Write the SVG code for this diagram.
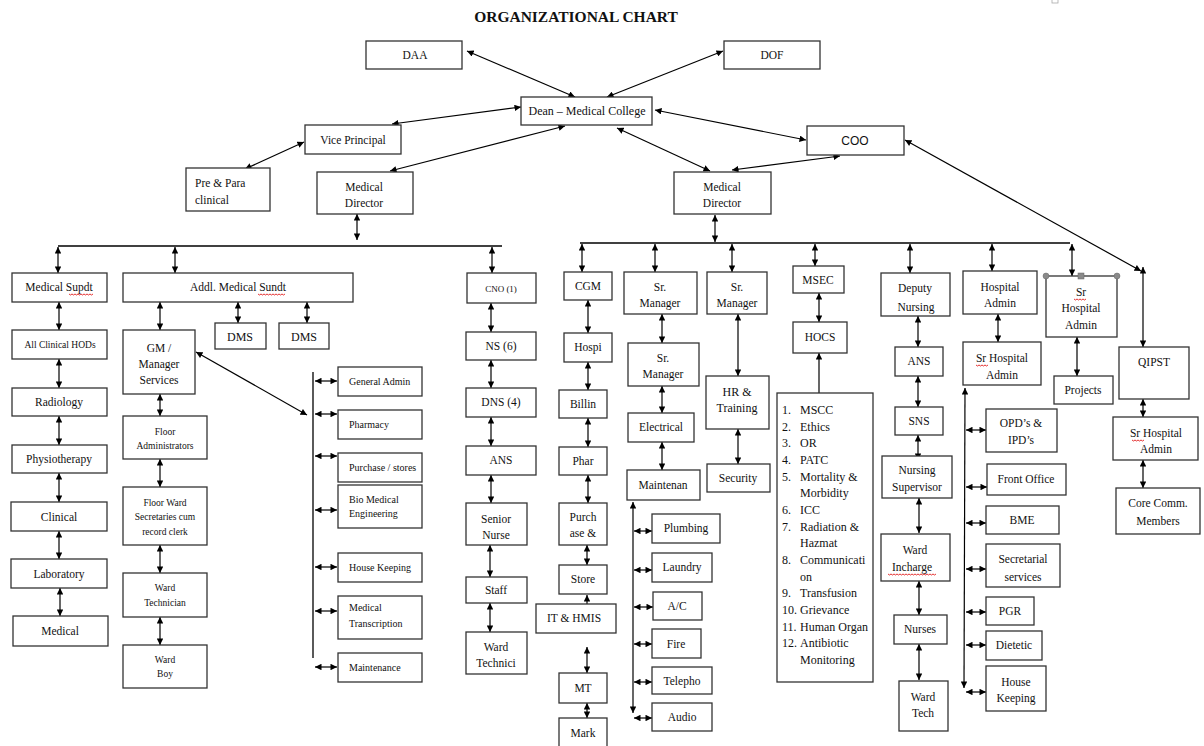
<svg xmlns="http://www.w3.org/2000/svg" width="1204" height="746" viewBox="0 0 1204 746">
<defs>
<marker id="ah" viewBox="0 0 10 10" refX="10" refY="5" markerWidth="7" markerHeight="6.5" markerUnits="userSpaceOnUse" orient="auto-start-reverse"><path d="M0,0 L10,5 L0,10 z" fill="#000"/></marker>
</defs>
<style>
rect.b{fill:#fff;stroke:#333;stroke-width:1.3}
text{font-family:"Liberation Serif","Times New Roman",serif;fill:#111;font-size:11.5px;text-anchor:middle}
text.s{font-size:9.5px}
text.v{font-size:10px;text-anchor:start}
text.l{font-size:12px;text-anchor:start}
text.sans{font-family:"Liberation Sans",Arial,sans-serif;font-size:12px}
text.title{font-size:15.5px;font-weight:bold}
line.a2{stroke:#000;stroke-width:1.2;marker-start:url(#ah);marker-end:url(#ah)}
line.a1{stroke:#000;stroke-width:1.2;marker-end:url(#ah)}
line.ln{stroke:#000;stroke-width:1.3}
path.sq{fill:none;stroke:#d00;stroke-width:0.8}
circle.h,rect.h{fill:#8a8a8a;stroke:#666;stroke-width:0.5}
</style>
<rect x="0" y="0" width="1204" height="746" fill="#fff"/>
<text class="title" x="576" y="22">ORGANIZATIONAL CHART</text>
<rect x="1052" y="-1" width="6" height="4" fill="#fff" stroke="#aaa" stroke-width="0.8"/>

<g id="connectors">
<line class="a2" x1="467" y1="51" x2="575" y2="97"/>
<line class="a2" x1="723" y1="51" x2="607" y2="97"/>
<line class="a2" x1="392" y1="124" x2="521" y2="107"/>
<line class="a2" x1="245" y1="169" x2="304" y2="142"/>
<line class="a2" x1="390" y1="171" x2="565" y2="126"/>
<line class="a2" x1="617" y1="128" x2="710" y2="171"/>
<line class="a2" x1="655" y1="110" x2="806" y2="140"/>
<line class="a2" x1="732" y1="170" x2="840" y2="156"/>
<line class="a2" x1="905" y1="140" x2="1141" y2="271"/>
<line class="a2" x1="1143" y1="267" x2="1143" y2="347"/>
<line class="a2" x1="357" y1="214" x2="357" y2="240"/>
<line class="ln" x1="58" y1="246" x2="502" y2="246"/>
<line class="a2" x1="58" y1="247" x2="58" y2="273"/>
<line class="a2" x1="175" y1="247" x2="175" y2="273"/>
<line class="a2" x1="492" y1="247" x2="492" y2="273"/>
<line class="a2" x1="59" y1="302" x2="59" y2="330"/>
<line class="a2" x1="59" y1="359" x2="59" y2="388"/>
<line class="a2" x1="59" y1="416" x2="59" y2="445"/>
<line class="a2" x1="59" y1="473" x2="59" y2="502"/>
<line class="a2" x1="59" y1="531" x2="59" y2="559"/>
<line class="a2" x1="60" y1="588" x2="60" y2="616"/>
<line class="a2" x1="160" y1="302" x2="160" y2="330"/>
<line class="a2" x1="160" y1="394" x2="160" y2="416"/>
<line class="a2" x1="160" y1="459" x2="160" y2="487"/>
<line class="a2" x1="160" y1="545" x2="160" y2="573"/>
<line class="a2" x1="160" y1="617" x2="160" y2="645"/>
<line class="a2" x1="238" y1="302" x2="238" y2="323"/>
<line class="a2" x1="307" y1="302" x2="307" y2="323"/>
<line class="a2" x1="196" y1="352" x2="307" y2="415"/>
<line class="ln" x1="313" y1="372" x2="313" y2="658"/>
<line class="a2" x1="315" y1="381" x2="337" y2="381"/>
<line class="a2" x1="315" y1="414" x2="337" y2="414"/>
<line class="a2" x1="315" y1="456" x2="337" y2="456"/>
<line class="a2" x1="315" y1="510" x2="337" y2="510"/>
<line class="a2" x1="315" y1="567" x2="337" y2="567"/>
<line class="a2" x1="315" y1="611" x2="337" y2="611"/>
<line class="a2" x1="315" y1="667" x2="337" y2="667"/>
<line class="a2" x1="491" y1="303" x2="491" y2="332"/>
<line class="a2" x1="491" y1="360" x2="491" y2="388"/>
<line class="a2" x1="491" y1="417" x2="491" y2="446"/>
<line class="a2" x1="491" y1="475" x2="491" y2="503"/>
<line class="a2" x1="490" y1="545" x2="490" y2="577"/>
<line class="a2" x1="490" y1="603" x2="490" y2="632"/>
<line class="a2" x1="715" y1="215" x2="715" y2="242"/>
<line class="ln" x1="580" y1="243" x2="1070" y2="243"/>
<line class="a2" x1="582" y1="244" x2="582" y2="272"/>
<line class="a2" x1="655" y1="244" x2="655" y2="272"/>
<line class="a2" x1="732" y1="244" x2="732" y2="272"/>
<line class="a2" x1="815" y1="244" x2="815" y2="266"/>
<line class="a2" x1="910" y1="244" x2="910" y2="273"/>
<line class="a2" x1="992" y1="244" x2="992" y2="271"/>
<line class="a2" x1="1072" y1="244" x2="1072" y2="276"/>
<line class="a2" x1="588" y1="300" x2="588" y2="333"/>
<line class="a2" x1="588" y1="362" x2="588" y2="390"/>
<line class="a2" x1="588" y1="418" x2="588" y2="447"/>
<line class="a2" x1="588" y1="475" x2="588" y2="503"/>
<line class="a2" x1="587" y1="545" x2="587" y2="565"/>
<line class="a2" x1="587" y1="595" x2="587" y2="613"/>
<line class="a2" x1="587" y1="647" x2="587" y2="673"/>
<line class="a2" x1="587" y1="703" x2="587" y2="718"/>
<line class="a2" x1="662" y1="314" x2="662" y2="343"/>
<line class="a2" x1="662" y1="386" x2="662" y2="413"/>
<line class="a2" x1="662" y1="442" x2="662" y2="470"/>
<line class="a2" x1="633" y1="502" x2="633" y2="713"/>
<line class="a2" x1="634" y1="531" x2="652" y2="531"/>
<line class="a2" x1="634" y1="570" x2="652" y2="570"/>
<line class="a2" x1="634" y1="607" x2="653" y2="607"/>
<line class="a2" x1="634" y1="644" x2="652" y2="644"/>
<line class="a2" x1="634" y1="682" x2="652" y2="682"/>
<line class="a2" x1="634" y1="718" x2="652" y2="718"/>
<line class="a2" x1="738" y1="314" x2="738" y2="376"/>
<line class="a2" x1="738" y1="429" x2="738" y2="464"/>
<line class="a2" x1="819" y1="293" x2="819" y2="322"/>
<line class="a1" x1="819" y1="393" x2="819" y2="353"/>
<line class="a2" x1="918" y1="316" x2="918" y2="347"/>
<line class="a2" x1="918" y1="376" x2="918" y2="407"/>
<line class="a2" x1="918" y1="435" x2="918" y2="460"/>
<line class="a2" x1="919" y1="498" x2="919" y2="533"/>
<line class="a2" x1="919" y1="581" x2="919" y2="615"/>
<line class="a2" x1="919" y1="644" x2="919" y2="680"/>
<line class="a2" x1="998" y1="314" x2="998" y2="342"/>
<line class="a2" x1="965" y1="388" x2="964" y2="688"/>
<line class="a2" x1="966" y1="430" x2="986" y2="430"/>
<line class="a2" x1="966" y1="487" x2="987" y2="487"/>
<line class="a2" x1="966" y1="523" x2="986" y2="523"/>
<line class="a2" x1="966" y1="569" x2="986" y2="569"/>
<line class="a2" x1="966" y1="612" x2="986" y2="612"/>
<line class="a2" x1="966" y1="645" x2="986" y2="645"/>
<line class="a2" x1="966" y1="692" x2="986" y2="692"/>
<line class="a2" x1="1077" y1="337" x2="1077" y2="376"/>
<line class="a2" x1="1143" y1="399" x2="1143" y2="417"/>
<line class="a2" x1="1143" y1="460" x2="1143" y2="488"/>
</g>

<g id="daa"><rect class="b" x="366" y="41" width="96" height="28"/><text x="415" y="59">DAA</text></g>
<g id="dof"><rect class="b" x="724" y="41" width="96" height="28"/><text x="772" y="59">DOF</text></g>
<g id="dean"><rect class="b" x="521" y="97" width="131" height="28"/><text x="587" y="115" style="font-size:12px">Dean – Medical College</text></g>
<g id="vice-principal"><rect class="b" x="305" y="125" width="96" height="29"/><text x="353" y="144">Vice Principal</text></g>
<g id="pre-para"><rect class="b" x="186" y="168" width="84" height="43"/><text x="195" y="187" style="text-anchor:start">Pre &amp; Para</text><text x="195" y="204" style="text-anchor:start">clinical</text></g>
<g id="md-left"><rect class="b" x="317" y="172" width="96" height="42"/><text x="364" y="191">Medical</text><text x="364" y="207">Director</text></g>
<g id="md-right"><rect class="b" x="674" y="172" width="97" height="42"/><text x="722" y="191">Medical</text><text x="722" y="207">Director</text></g>
<g id="coo"><rect class="b" x="807" y="126" width="97" height="29"/><text class="sans" x="855" y="145">COO</text></g>

<g id="medical-supdt"><rect class="b" x="12" y="273" width="95" height="29"/><text x="59" y="291">Medical Supdt</text><path class="sq" d="M69,294 l1.5,1 1.5,-1 1.5,1 1.5,-1 1.5,1 1.5,-1 1.5,1 1.5,-1 1.5,1 1.5,-1 1.5,1 1.5,-1 1.5,1 1.5,-1 1.5,1 1.5,-1"/></g>
<g id="all-clinical-hods"><rect class="b" x="12" y="330" width="95" height="29"/><text class="s" x="60" y="348">All Clinical HODs</text></g>
<g id="radiology"><rect class="b" x="12" y="388" width="95" height="28"/><text x="59" y="406">Radiology</text></g>
<g id="physiotherapy"><rect class="b" x="12" y="445" width="95" height="28"/><text x="59" y="463">Physiotherapy</text></g>
<g id="clinical"><rect class="b" x="11" y="502" width="96" height="29"/><text x="59" y="521">Clinical</text></g>
<g id="laboratory"><rect class="b" x="11" y="559" width="96" height="29"/><text x="59" y="578">Laboratory</text></g>
<g id="medical"><rect class="b" x="13" y="616" width="95" height="30"/><text x="60" y="635">Medical</text></g>

<g id="addl-medical-sundt"><rect class="b" x="123" y="273" width="230" height="29"/><text x="238" y="291">Addl. Medical Sundt</text><path class="sq" d="M258,294 l1.5,1 1.5,-1 1.5,1 1.5,-1 1.5,1 1.5,-1 1.5,1 1.5,-1 1.5,1 1.5,-1 1.5,1 1.5,-1 1.5,1 1.5,-1 1.5,1 1.5,-1 1.5,1 1.5,-1"/></g>
<g id="gm-manager-services"><rect class="b" x="123" y="330" width="72" height="64"/><text x="159" y="352">GM /</text><text x="159" y="368">Manager</text><text x="159" y="384">Services</text></g>
<g id="floor-administrators"><rect class="b" x="123" y="416" width="84" height="43"/><text class="s" x="165" y="435">Floor</text><text class="s" x="165" y="449">Administrators</text></g>
<g id="floor-ward-secretaries"><rect class="b" x="123" y="487" width="84" height="58"/><text class="s" x="165" y="506">Floor Ward</text><text class="s" x="165" y="520">Secretaries cum</text><text class="s" x="165" y="535">record clerk</text></g>
<g id="ward-technician"><rect class="b" x="123" y="573" width="84" height="44"/><text class="s" x="165" y="591">Ward</text><text class="s" x="165" y="606">Technician</text></g>
<g id="ward-boy"><rect class="b" x="123" y="645" width="84" height="43"/><text class="s" x="165" y="663">Ward</text><text class="s" x="165" y="677">Boy</text></g>
<g id="dms-1"><rect class="b" x="215" y="323" width="51" height="26"/><text x="240" y="341" style="font-size:12px">DMS</text></g>
<g id="dms-2"><rect class="b" x="279" y="323" width="50" height="26"/><text x="304" y="341" style="font-size:12px">DMS</text></g>

<g id="general-admin"><rect class="b" x="338" y="367" width="84" height="29"/><text class="v" x="349" y="385">General Admin</text></g>
<g id="pharmacy"><rect class="b" x="338" y="410" width="84" height="29"/><text class="v" x="349" y="428">Pharmacy</text></g>
<g id="purchase-stores"><rect class="b" x="338" y="453" width="84" height="29"/><text class="v" x="349" y="471">Purchase / stores</text></g>
<g id="bio-medical"><rect class="b" x="338" y="485" width="84" height="43"/><text class="v" x="349" y="503">Bio Medical</text><text class="v" x="349" y="517">Engineering</text></g>
<g id="house-keeping-1"><rect class="b" x="338" y="553" width="84" height="29"/><text class="v" x="349" y="571">House Keeping</text></g>
<g id="medical-transcription"><rect class="b" x="338" y="596" width="84" height="43"/><text class="v" x="349" y="611">Medical</text><text class="v" x="349" y="627">Transcription</text></g>
<g id="maintenance-1"><rect class="b" x="338" y="653" width="84" height="29"/><text class="v" x="349" y="671">Maintenance</text></g>

<g id="cno"><rect class="b" x="467" y="273" width="69" height="30"/><text x="501" y="292" style="font-size:9px">CNO (1)</text></g>
<g id="ns-6"><rect class="b" x="466" y="332" width="70" height="28"/><text x="501" y="350">NS (6)</text></g>
<g id="dns-4"><rect class="b" x="466" y="388" width="70" height="29"/><text x="501" y="406">DNS (4)</text></g>
<g id="ans-1"><rect class="b" x="466" y="446" width="70" height="29"/><text x="501" y="464">ANS</text></g>
<g id="senior-nurse"><rect class="b" x="466" y="503" width="61" height="42"/><text x="496" y="523">Senior</text><text x="496" y="539">Nurse</text></g>
<g id="staff"><rect class="b" x="466" y="577" width="61" height="26"/><text x="496" y="594">Staff</text></g>
<g id="ward-technici"><rect class="b" x="466" y="632" width="61" height="42"/><text x="496" y="651">Ward</text><text x="496" y="667">Technici</text></g>

<g id="cgm"><rect class="b" x="564" y="272" width="48" height="28"/><text x="588" y="290">CGM</text></g>
<g id="hospi"><rect class="b" x="564" y="333" width="48" height="29"/><text x="588" y="351">Hospi</text></g>
<g id="billin"><rect class="b" x="559" y="390" width="48" height="28"/><text x="583" y="408">Billin</text></g>
<g id="phar"><rect class="b" x="559" y="447" width="48" height="28"/><text x="583" y="465">Phar</text></g>
<g id="purchase"><rect class="b" x="559" y="503" width="48" height="42"/><text x="583" y="521">Purch</text><text x="583" y="537">ase &amp;</text></g>
<g id="store"><rect class="b" x="559" y="565" width="48" height="29"/><text x="583" y="583">Store</text></g>
<g id="it-hmis"><rect class="b" x="536" y="604" width="80" height="29"/><text x="574" y="622">IT &amp; HMIS</text></g>
<g id="mt"><rect class="b" x="559" y="673" width="48" height="30"/><text x="583" y="692">MT</text></g>
<g id="mark"><rect class="b" x="559" y="718" width="48" height="30"/><text x="583" y="737">Mark</text></g>

<g id="sr-manager-1"><rect class="b" x="624" y="272" width="73" height="42"/><text x="660" y="291">Sr.</text><text x="660" y="307">Manager</text></g>
<g id="sr-manager-1b"><rect class="b" x="628" y="343" width="71" height="43"/><text x="663" y="362">Sr.</text><text x="663" y="378">Manager</text></g>
<g id="electrical"><rect class="b" x="628" y="413" width="66" height="29"/><text x="661" y="431">Electrical</text></g>
<g id="maintenan"><rect class="b" x="627" y="470" width="73" height="30"/><text x="663" y="489">Maintenan</text></g>
<g id="plumbing"><rect class="b" x="652" y="514" width="68" height="29"/><text x="686" y="532">Plumbing</text></g>
<g id="laundry"><rect class="b" x="652" y="553" width="60" height="29"/><text x="682" y="571">Laundry</text></g>
<g id="ac"><rect class="b" x="653" y="592" width="49" height="28"/><text x="677" y="610">A/C</text></g>
<g id="fire"><rect class="b" x="652" y="629" width="49" height="29"/><text x="676" y="648">Fire</text></g>
<g id="telepho"><rect class="b" x="652" y="667" width="60" height="27"/><text x="682" y="685">Telepho</text></g>
<g id="audio"><rect class="b" x="652" y="703" width="60" height="28"/><text x="682" y="721">Audio</text></g>

<g id="sr-manager-2"><rect class="b" x="707" y="272" width="60" height="42"/><text x="737" y="291">Sr.</text><text x="737" y="307">Manager</text></g>
<g id="hr-training"><rect class="b" x="706" y="376" width="63" height="53"/><text x="737" y="396" style="font-size:12px">HR &amp;</text><text x="737" y="412" style="font-size:12px">Training</text></g>
<g id="security"><rect class="b" x="707" y="464" width="63" height="28"/><text x="738" y="482">Security</text></g>

<g id="msec"><rect class="b" x="793" y="266" width="51" height="27"/><text x="818" y="284">MSEC</text></g>
<g id="hocs"><rect class="b" x="793" y="322" width="54" height="31"/><text x="820" y="341">HOCS</text></g>
<g id="committees"><rect class="b" x="777" y="393" width="96" height="289"/>
<text class="l" x="782" y="414">1.</text><text class="l" x="800" y="414">MSCC</text>
<text class="l" x="782" y="430.7">2.</text><text class="l" x="800" y="430.7">Ethics</text>
<text class="l" x="782" y="447.3">3.</text><text class="l" x="800" y="447.3">OR</text>
<text class="l" x="782" y="464">4.</text><text class="l" x="800" y="464">PATC</text>
<text class="l" x="782" y="480.7">5.</text><text class="l" x="800" y="480.7">Mortality &amp;</text>
<text class="l" x="800" y="497.3">Morbidity</text>
<text class="l" x="782" y="514">6.</text><text class="l" x="800" y="514">ICC</text>
<text class="l" x="782" y="530.7">7.</text><text class="l" x="800" y="530.7">Radiation &amp;</text>
<text class="l" x="800" y="547.3">Hazmat</text>
<text class="l" x="782" y="564">8.</text><text class="l" x="800" y="564">Communicati</text>
<text class="l" x="800" y="580.7">on</text>
<text class="l" x="782" y="597.3">9.</text><text class="l" x="800" y="597.3">Transfusion</text>
<text class="l" x="782" y="614">10.</text><text class="l" x="800" y="614">Grievance</text>
<text class="l" x="782" y="630.7">11.</text><text class="l" x="800" y="630.7">Human Organ</text>
<text class="l" x="782" y="647.3">12.</text><text class="l" x="800" y="647.3">Antibiotic</text>
<text class="l" x="800" y="664">Monitoring</text>
</g>

<g id="deputy-nursing"><rect class="b" x="881" y="273" width="69" height="43"/><text x="915" y="292">Deputy</text><text x="916" y="311">Nursing</text></g>
<g id="ans-2"><rect class="b" x="895" y="347" width="48" height="29"/><text x="919" y="365">ANS</text></g>
<g id="sns"><rect class="b" x="895" y="407" width="48" height="28"/><text x="919" y="425">SNS</text></g>
<g id="nursing-supervisor"><rect class="b" x="882" y="456" width="70" height="42"/><text x="917" y="474">Nursing</text><text x="917" y="491">Supervisor</text></g>
<g id="ward-incharge"><rect class="b" x="881" y="534" width="69" height="47"/><text x="915" y="554">Ward</text><text x="912" y="571">Incharge</text><path class="sq" d="M888,574 l1.5,1 1.5,-1 1.5,1 1.5,-1 1.5,1 1.5,-1 1.5,1 1.5,-1 1.5,1 1.5,-1 1.5,1 1.5,-1 1.5,1 1.5,-1 1.5,1 1.5,-1 1.5,1 1.5,-1 1.5,1 1.5,-1 1.5,1 1.5,-1 1.5,1 1.5,-1 1.5,1 1.5,-1 1.5,1 1.5,-1 1.5,1 1.5,-1 1.5,1 1.5,-1"/></g>
<g id="nurses"><rect class="b" x="894" y="615" width="53" height="29"/><text x="920" y="633">Nurses</text></g>
<g id="ward-tech"><rect class="b" x="899" y="681" width="49" height="50"/><text x="923" y="701">Ward</text><text x="923" y="717">Tech</text></g>

<g id="hospital-admin"><rect class="b" x="963" y="271" width="74" height="43"/><text x="1000" y="291">Hospital</text><text x="1000" y="307">Admin</text></g>
<g id="sr-hospital-admin-1"><rect class="b" x="963" y="342" width="78" height="43"/><text x="1002" y="362">Sr Hospital</text><text x="1002" y="379">Admin</text><path class="sq" d="M976,365 l1.5,1 1.5,-1 1.5,1 1.5,-1 1.5,1 1.5,-1 1.5,1 1.5,-1"/></g>
<g id="opd-ipd"><rect class="b" x="986" y="409" width="71" height="43"/><text x="1021" y="427">OPD’s &amp;</text><text x="1021" y="444">IPD’s</text></g>
<g id="front-office"><rect class="b" x="987" y="464" width="79" height="31"/><text x="1026" y="483">Front Office</text></g>
<g id="bme"><rect class="b" x="986" y="506" width="73" height="28"/><text x="1022" y="524">BME</text></g>
<g id="secretarial"><rect class="b" x="986" y="544" width="74" height="43"/><text x="1023" y="563">Secretarial</text><text x="1023" y="581">services</text></g>
<g id="pgr"><rect class="b" x="986" y="597" width="48" height="28"/><text x="1010" y="615">PGR</text></g>
<g id="dietetic"><rect class="b" x="986" y="631" width="56" height="29"/><text x="1014" y="649">Dietetic</text></g>
<g id="house-keeping-2"><rect class="b" x="986" y="666" width="60" height="45"/><text x="1016" y="686">House</text><text x="1016" y="702">Keeping</text></g>

<g id="sr-hospital-admin-top"><rect class="b" x="1046" y="276" width="71" height="61"/><text x="1081" y="296">Sr</text><text x="1081" y="312">Hospital</text><text x="1081" y="329">Admin</text><path class="sq" d="M1074,299 l1.5,1 1.5,-1 1.5,1 1.5,-1 1.5,1 1.5,-1 1.5,1 1.5,-1"/><circle class="h" cx="1046" cy="276" r="3"/><rect class="h" x="1078" y="273" width="6" height="6"/><circle class="h" cx="1117" cy="276" r="3"/></g>
<g id="projects"><rect class="b" x="1054" y="376" width="59" height="28"/><text x="1083" y="394">Projects</text></g>
<g id="qipst"><rect class="b" x="1119" y="347" width="70" height="52"/><text x="1154" y="366">QIPST</text></g>
<g id="sr-hospital-admin-2"><rect class="b" x="1113" y="417" width="85" height="43"/><text x="1156" y="437">Sr Hospital</text><text x="1156" y="453">Admin</text><path class="sq" d="M1132,440 l1.5,1 1.5,-1 1.5,1 1.5,-1 1.5,1 1.5,-1 1.5,1 1.5,-1"/></g>
<g id="core-comm"><rect class="b" x="1116" y="488" width="84" height="46"/><text x="1158" y="507">Core Comm.</text><text x="1158" y="525">Members</text></g>
</svg>
